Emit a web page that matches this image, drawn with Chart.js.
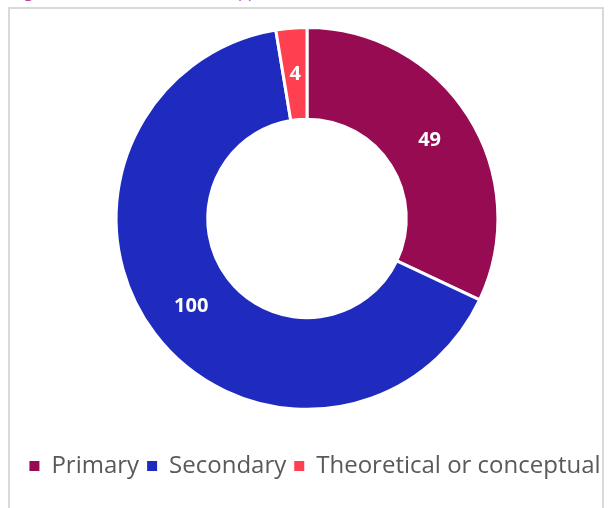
<!DOCTYPE html>
<html>
<head>
    <meta charset="utf-8"/>
    <title>Data approach</title>
    <style>
        body { margin: 0; background: #ffffff; overflow: hidden; width: 608px; height: 508px; position: relative; }
        #caption { position: absolute; left: 12px; top: -19px; font-family: 'Open Sans'; font-size: 16px; line-height: 20px; color: #cc3c8c; white-space: nowrap; }
        #frame { position: absolute; left: 8px; top: 7px; width: 592px; height: 520px; border: 2px solid #d9d9d9; }
        #chart { position: absolute; left: 0; top: 0; }
    </style>
    <script src="https://cdn.jsdelivr.net/npm/chart.js@4"></script>
    <script language="javascript">
        // values
        const categories = ['Primary', 'Secondary', 'Theoretical or conceptual'];
        const counts = [49, 100, 4];
        const colours = ['#970b52', '#1f2bbe', '#ff4051'];

        var _chart = null;

        // white numbers in the middle of every slice
        const sliceLabels = {
            id: 'sliceLabels',
            afterDatasetsDraw(chart) {
                const ctx = chart.ctx;
                const meta = chart.getDatasetMeta(0);
                ctx.save();
                ctx.fillStyle = '#ffffff';
                ctx.font = "bold 20px 'Open Sans'";
                ctx.textAlign = 'center';
                ctx.textBaseline = 'middle';
                meta.data.forEach((arc, i) => {
                    const p = arc.tooltipPosition();
                    ctx.fillText(String(chart.data.datasets[0].data[i]), p.x, p.y);
                });
                ctx.restore();
            }
        };

        // the legend sits a bit right of the ring centre in the original
        const legendNudge = {
            id: 'legendNudge',
            afterLayout(chart) {
                chart.legend.left += 8;
                chart.legend.right += 8;
            }
        };

        function onStart() {
            const canvas = document.getElementById('chart').getContext('2d');
            _chart = new Chart(canvas, {
                type: 'doughnut',
                data: {
                    labels: categories,
                    datasets: [{
                        data: counts,
                        backgroundColor: colours,
                        borderColor: '#ffffff',
                        borderWidth: 3,
                    }],
                },
                options: {
                    responsive: false,
                    animation: false,
                    cutout: '52%',
                    layout: { padding: { left: 12, right: 6, top: 26, bottom: 20 } },
                    plugins: {
                        tooltip: { enabled: false },
                        legend: {
                            position: 'bottom',
                            title: { display: true, text: '', font: { size: 1 }, padding: { top: 34, bottom: 0 } },
                            labels: {
                                boxWidth: 10,
                                boxHeight: 10,
                                padding: 8,
                                color: '#595959',
                                font: { family: "'Open Sans'", size: 24 },
                                generateLabels(chart) {
                                    const items = Chart.overrides.doughnut.plugins.legend.labels.generateLabels(chart);
                                    items.forEach((it) => { it.lineWidth = 0; it.strokeStyle = it.fillStyle; });
                                    return items;
                                },
                            },
                        },
                    },
                },
                plugins: [sliceLabels, legendNudge],
            });
        }
    </script>
</head>
<body onload="onStart();">
<div id="caption">Figure 5: Distribution of data approach</div>
<div id="frame"></div>
<canvas id="chart" width="608" height="508"></canvas>
</body>
</html>
